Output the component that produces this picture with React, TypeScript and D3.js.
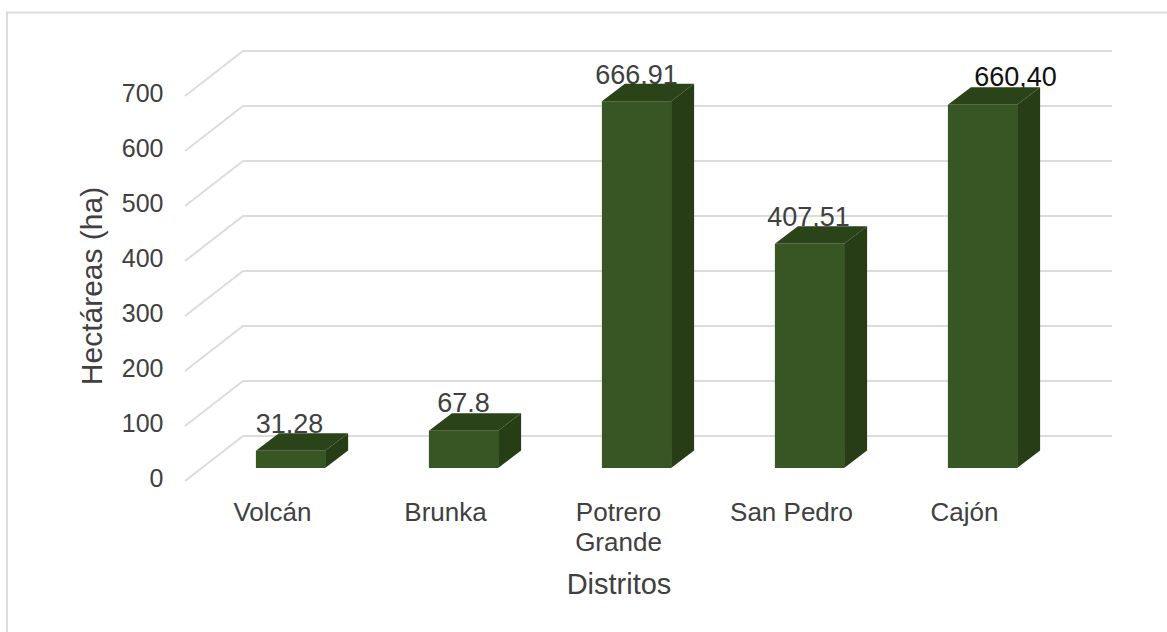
import React from "react";
import * as d3 from "d3";

const categories = ["Volcán", "Brunka", "Potrero Grande", "San Pedro", "Cajón"];
const values = [31.28, 67.8, 666.91, 407.51, 660.4];
const valueLabels = ["31,28", "67.8", "666,91", "407,51", "660,40"];
const ticks = [0, 100, 200, 300, 400, 500, 600, 700];
const yTitle = "Hectáreas (ha)";
const xTitle = "Distritos";

const W = 1167, H = 632;
const FRONT = "#375623", TOP = "#2a4318", SIDE = "#263d15", GRID = "#dcdcdc", TEXT = "#404040";
const dx = 23, dy = 17.5;
const baseY = 468;
const font = "'Liberation Sans', Arial, sans-serif";

export default function App() {
  const x = d3.scaleBand<string>().domain(categories).range([204, 1069]).paddingInner(0.6).paddingOuter(0.3);
  const y = d3.scaleLinear().domain([0, 700]).range([baseY, baseY - 385]);
  const bw = x.bandwidth();
  const labelDy = [-18, -18.5, -17, -17.5, -18.5];
  const labelDx = [-1, 0, 0, -1, 33];
  return (
    <svg width={W} height={H} style={{ position: "absolute", left: 0, top: 0, background: "#fff" }} fontFamily={font}>
      <rect x={7} y={12.5} width={1170} height={640} fill="#fff" stroke="#dcdcdc" strokeWidth={2} />
      {ticks.map(t => {
        const yy = y(t);
        return (
          <g key={t}>
            <path d={`M185,${yy + 13}L243,${yy - 32}H1112`} fill="none" stroke={GRID} strokeWidth={2} />
            <text x={163.5} y={yy + 19} textAnchor="end" fontSize={25} fill={TEXT}>{t}</text>
          </g>
        );
      })}
      {categories.map((c, i) => (
        <text key={c} x={x(c)! + bw / 2 + labelDx[i]} y={y(values[i]) + labelDy[i]} textAnchor="middle" fontSize={27} fill={i === 4 ? "#111" : TEXT}>{valueLabels[i]}</text>
      ))}
      {categories.map((c, i) => {
        const l = x(c)!, r = l + bw, t = y(values[i]);
        return (
          <g key={c}>
            <path d={`M${l},${t}L${l + dx},${t - dy}H${r + dx}L${r},${t}Z`} fill={TOP} />
            <path d={`M${r},${t}L${r + dx},${t - dy}V${baseY - dy}L${r},${baseY}Z`} fill={SIDE} />
            <rect x={l} y={t} width={bw} height={baseY - t} fill={FRONT} />
          </g>
        );
      })}
      {categories.map(c => {
        const words = c === "Potrero Grande" ? ["Potrero", "Grande"] : [c];
        return (
          <text key={c} x={x(c)! + bw / 2 - 18} y={521} textAnchor="middle" fontSize={26} fill={TEXT}>
            {words.map((w, i) => <tspan key={w} x={x(c)! + bw / 2 - 18} dy={i ? 30 : 0}>{w}</tspan>)}
          </text>
        );
      })}
      <text x={619} y={594} textAnchor="middle" fontSize={29} fill={TEXT}>{xTitle}</text>
      <text transform="translate(102,286) rotate(-90)" textAnchor="middle" fontSize={30} fill={TEXT}>{yTitle}</text>
    </svg>
  );
}
